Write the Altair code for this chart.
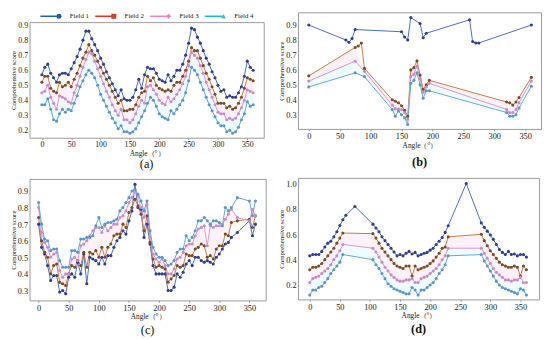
import altair as alt
import pandas as pd

FONT = "Liberation Serif"
FIELDS = ["Field 1", "Field 2", "Field 3", "Field 4"]
LINE_COLORS = ["#4a6fb8", "#c97a3f", "#d993d9", "#62a6dc"]
MARK_COLORS = ["#2c3c96", "#7a4b25", "#c98bc9", "#5a96cc"]
LEG_LINE = ["#1f5fa8", "#e8312f", "#f57fc1", "#17bcc4"]
LEG_MARK = ["#1f5fa8", "#d2402a", "#f57fc1", "#5ab4e0"]
LEG_SHAPES = ["circle", "square", "diamond", "triangle-up"]
XTICKS = [0, 50, 100, 150, 200, 250, 300, 350]

# ---------------- panel (a) ----------------
a_angle = list(range(0, 361, 5))
a_f1 = [0.57, 0.62, 0.64, 0.58, 0.55, 0.52, 0.57, 0.58, 0.58, 0.57,
        0.61, 0.65, 0.69, 0.74, 0.80, 0.86, 0.86, 0.81, 0.77, 0.73,
        0.68, 0.64, 0.59, 0.55, 0.51, 0.47, 0.43, 0.47, 0.41, 0.40,
        0.40, 0.42, 0.47, 0.54, 0.48, 0.57, 0.62, 0.61, 0.61, 0.58,
        0.54, 0.53, 0.52, 0.57, 0.53, 0.56, 0.60, 0.60, 0.64, 0.70,
        0.78, 0.88, 0.87, 0.82, 0.78, 0.73, 0.68, 0.64, 0.59, 0.55,
        0.50, 0.46, 0.47, 0.42, 0.43, 0.42, 0.42, 0.45, 0.49, 0.56,
        0.66, 0.62, 0.60]
a_f2 = [0.52, 0.56, 0.56, 0.48, 0.46, 0.45, 0.52, 0.49, 0.50, 0.52,
        0.49, 0.54, 0.58, 0.63, 0.68, 0.72, 0.77, 0.73, 0.70, 0.66,
        0.62, 0.58, 0.54, 0.50, 0.46, 0.42, 0.38, 0.40, 0.33, 0.33,
        0.34, 0.34, 0.37, 0.42, 0.45, 0.46, 0.56, 0.53, 0.55, 0.50,
        0.48, 0.47, 0.46, 0.47, 0.46, 0.50, 0.52, 0.52, 0.56, 0.60,
        0.66, 0.75, 0.73, 0.73, 0.68, 0.63, 0.58, 0.54, 0.49, 0.44,
        0.38, 0.38, 0.38, 0.35, 0.36, 0.34, 0.35, 0.38, 0.42, 0.48,
        0.55, 0.54, 0.53]
a_f3 = [0.45, 0.46, 0.50, 0.42, 0.38, 0.34, 0.43, 0.42, 0.41, 0.39,
        0.38, 0.45, 0.50, 0.56, 0.62, 0.67, 0.72, 0.71, 0.66, 0.61,
        0.56, 0.51, 0.46, 0.42, 0.37, 0.33, 0.30, 0.34, 0.27, 0.27,
        0.25, 0.27, 0.31, 0.36, 0.40, 0.38, 0.49, 0.50, 0.47, 0.44,
        0.40, 0.38, 0.37, 0.42, 0.39, 0.41, 0.44, 0.47, 0.51, 0.56,
        0.63, 0.72, 0.70, 0.68, 0.63, 0.58, 0.52, 0.47, 0.42, 0.37,
        0.32, 0.31, 0.31, 0.27, 0.28, 0.27, 0.28, 0.31, 0.35, 0.40,
        0.47, 0.46, 0.45]
a_f4 = [0.37, 0.37, 0.41, 0.34, 0.27, 0.26, 0.31, 0.34, 0.32, 0.34,
        0.33, 0.38, 0.43, 0.49, 0.53, 0.57, 0.60, 0.58, 0.55, 0.50,
        0.44, 0.40, 0.36, 0.32, 0.28, 0.25, 0.21, 0.23, 0.19, 0.19,
        0.18, 0.19, 0.21, 0.25, 0.29, 0.33, 0.38, 0.42, 0.40, 0.36,
        0.31, 0.29, 0.28, 0.27, 0.33, 0.31, 0.34, 0.37, 0.40, 0.45,
        0.53, 0.62, 0.60, 0.57, 0.52, 0.47, 0.42, 0.37, 0.33, 0.29,
        0.25, 0.23, 0.23, 0.19, 0.20, 0.18, 0.19, 0.22, 0.27, 0.31,
        0.39, 0.36, 0.37]

# ---------------- panel (b) ----------------
b_angle1 = [0, 60, 65, 70, 75, 150, 155, 160, 165, 180, 185, 190, 260, 265, 270, 275, 360]
b_f1 = [0.90, 0.80, 0.785, 0.81, 0.87, 0.855, 0.82, 0.80, 0.95, 0.91, 0.815, 0.845,
        0.935, 0.79, 0.78, 0.78, 0.90]
b_angle2 = [0, 75, 80, 85, 90, 135, 140, 145, 150, 155, 160, 165, 170, 175, 180, 185,
            190, 195, 320, 325, 330, 335, 340, 360]
b_f2 = [0.56, 0.75, 0.76, 0.78, 0.61, 0.40, 0.39, 0.38, 0.36, 0.33, 0.29, 0.60, 0.615,
        0.66, 0.565, 0.47, 0.50, 0.53, 0.385, 0.38, 0.365, 0.385, 0.415, 0.55]
b_angle34 = [0, 75, 90, 135, 140, 145, 150, 155, 160, 165, 170, 175, 180, 185, 190, 195,
             320, 325, 330, 335, 340, 360]
b_f3 = [0.525, 0.658, 0.59, 0.365, 0.34, 0.34, 0.335, 0.315, 0.27, 0.555, 0.57, 0.625,
        0.54, 0.45, 0.485, 0.51, 0.335, 0.315, 0.315, 0.335, 0.38, 0.525]
b_f4 = [0.486, 0.58, 0.555, 0.335, 0.29, 0.325, 0.30, 0.28, 0.235, 0.51, 0.53, 0.58,
        0.50, 0.41, 0.46, 0.46, 0.315, 0.29, 0.29, 0.30, 0.345, 0.49]
b_f2_at34 = [0.56, 0.75, 0.61, 0.40, 0.39, 0.38, 0.36, 0.33, 0.29, 0.60, 0.615, 0.66,
             0.565, 0.47, 0.50, 0.53, 0.385, 0.38, 0.365, 0.385, 0.415, 0.55]

# ---------------- panel (c) ----------------
c_angle = list(range(0, 321, 5)) + [330, 350, 355, 360]
c_f1 = [0.70, 0.56, 0.52, 0.45, 0.36, 0.39, 0.39, 0.29, 0.30, 0.28,
        0.38, 0.40, 0.38, 0.47, 0.40, 0.52, 0.34, 0.50, 0.49, 0.48,
        0.46, 0.50, 0.46, 0.51, 0.51, 0.56, 0.60, 0.62, 0.66, 0.64,
        0.72, 0.78, 0.94, 0.80, 0.79, 0.62, 0.70, 0.58, 0.45, 0.40,
        0.40, 0.40, 0.40, 0.30, 0.30, 0.32, 0.40, 0.38, 0.41, 0.46,
        0.48, 0.45, 0.50, 0.50, 0.48, 0.47, 0.48, 0.47, 0.46, 0.50,
        0.52, 0.55, 0.58, 0.59, 0.62,
        0.65, 0.72, 0.63, 0.70]
c_f2 = [0.74, 0.60, 0.53, 0.50, 0.40, 0.45, 0.46, 0.35, 0.34, 0.33,
        0.40, 0.45, 0.44, 0.48, 0.45, 0.53, 0.44, 0.53, 0.52, 0.54,
        0.50, 0.56, 0.50, 0.56, 0.58, 0.63, 0.64, 0.64, 0.70, 0.68,
        0.77, 0.80, 0.85, 0.81, 0.76, 0.66, 0.75, 0.59, 0.49, 0.44,
        0.45, 0.44, 0.43, 0.35, 0.37, 0.39, 0.45, 0.44, 0.45, 0.52,
        0.51, 0.51, 0.55, 0.56, 0.58, 0.57, 0.50, 0.51, 0.49, 0.55,
        0.57, 0.57, 0.64, 0.63, 0.71,
        0.72, 0.73, 0.68, 0.75]
c_f3 = [0.80, 0.65, 0.59, 0.56, 0.50, 0.52, 0.53, 0.42, 0.38, 0.40,
        0.40, 0.49, 0.50, 0.48, 0.57, 0.58, 0.60, 0.63, 0.66, 0.68,
        0.68, 0.65, 0.69, 0.66, 0.68, 0.70, 0.70, 0.74, 0.75, 0.78,
        0.83, 0.86, 0.90, 0.87, 0.80, 0.74, 0.82, 0.62, 0.52, 0.49,
        0.47, 0.49, 0.45, 0.40, 0.40, 0.43, 0.49, 0.50, 0.53, 0.57,
        0.58, 0.58, 0.63, 0.67, 0.68, 0.69, 0.57, 0.69, 0.68, 0.69,
        0.69, 0.70, 0.73, 0.76, 0.79,
        0.74, 0.72, 0.79, 0.75]
c_f4 = [0.83, 0.70, 0.61, 0.60, 0.54, 0.55, 0.55, 0.48, 0.44, 0.44,
        0.44, 0.54, 0.54, 0.53, 0.61, 0.61, 0.62, 0.62, 0.63, 0.69,
        0.74, 0.68, 0.70, 0.71, 0.71, 0.72, 0.73, 0.78, 0.80, 0.83,
        0.86, 0.90, 0.91, 0.88, 0.84, 0.78, 0.84, 0.66, 0.56, 0.52,
        0.50, 0.50, 0.48, 0.45, 0.46, 0.48, 0.53, 0.55, 0.55, 0.63,
        0.60, 0.62, 0.66, 0.72, 0.72, 0.74, 0.72, 0.70, 0.72, 0.72,
        0.71, 0.69, 0.80, 0.78, 0.80,
        0.86, 0.84, 0.75, 0.84]

# ---------------- panel (d) ----------------
d_angle1 = (list(range(0, 61, 5)) + [75] + list(range(105, 231, 5)) + [260]
            + list(range(285, 361, 5)))
d_f1 = [0.43, 0.44, 0.44, 0.44, 0.465, 0.50, 0.53, 0.545, 0.58, 0.62, 0.67, 0.715, 0.75,
        0.82,
        0.68, 0.65, 0.62, 0.58, 0.55, 0.52, 0.49, 0.46, 0.43, 0.44, 0.43, 0.45, 0.465,
        0.445, 0.457, 0.43, 0.44, 0.45, 0.457, 0.475, 0.49, 0.52, 0.545, 0.575, 0.615, 0.667,
        1.0,
        0.69, 0.655, 0.625, 0.595, 0.56, 0.52, 0.48, 0.457, 0.44, 0.465, 0.44, 0.445,
        0.43, 0.44, 0.44, 0.42]
d_angle = list(range(0, 56, 5)) + list(range(105, 231, 5)) + list(range(285, 361, 5))
d_f2 = [0.32, 0.34, 0.34, 0.35, 0.37, 0.40, 0.43, 0.46, 0.49, 0.53, 0.57, 0.61,
        0.605, 0.57, 0.53, 0.49, 0.46, 0.43, 0.40, 0.37, 0.35, 0.34, 0.33, 0.35, 0.35,
        0.27, 0.35, 0.32, 0.33, 0.34, 0.35, 0.37, 0.39, 0.42, 0.45, 0.49, 0.50, 0.58,
        0.60, 0.55, 0.51, 0.47, 0.44, 0.41, 0.38, 0.36, 0.35, 0.34, 0.34, 0.35, 0.34,
        0.27, 0.35, 0.32]
d_f3 = [0.22, 0.25, 0.26, 0.27, 0.29, 0.31, 0.33, 0.36, 0.40, 0.43, 0.47, 0.52,
        0.49, 0.46, 0.42, 0.38, 0.34, 0.31, 0.28, 0.26, 0.24, 0.23, 0.23, 0.24, 0.24,
        0.25, 0.22, 0.22, 0.25, 0.26, 0.27, 0.29, 0.31, 0.33, 0.36, 0.40, 0.43, 0.49,
        0.49, 0.45, 0.41, 0.37, 0.33, 0.30, 0.28, 0.26, 0.24, 0.24, 0.23, 0.24, 0.24,
        0.26, 0.22, 0.22]
d_f4 = [0.12, 0.16, 0.16, 0.18, 0.19, 0.22, 0.25, 0.29, 0.32, 0.35, 0.38, 0.44,
        0.40, 0.36, 0.33, 0.29, 0.25, 0.21, 0.19, 0.17, 0.16, 0.15, 0.14, 0.13, 0.13,
        0.18, 0.16, 0.12, 0.16, 0.16, 0.18, 0.20, 0.22, 0.25, 0.29, 0.32, 0.36, 0.43,
        0.44, 0.39, 0.35, 0.31, 0.27, 0.23, 0.20, 0.18, 0.17, 0.16, 0.15, 0.14, 0.13,
        0.17, 0.16, 0.12]


def long_frame(parts):
    rows = []
    for field, angs, vals in parts:
        for a, v in zip(angs, vals):
            rows.append({"angle": a, "score": v, "field": field})
    return pd.DataFrame(rows)


def band_frame(angs, hi, lo):
    return pd.DataFrame({"angle": angs, "score": hi, "lo": lo})


def panel(df, pink, cyan, xdom, ydom, yvals, w, h, label, bold, lab_fs, toff):
    xenc = alt.X("angle:Q",
                 scale=alt.Scale(domain=xdom, nice=False, zero=False),
                 axis=alt.Axis(values=XTICKS, title="Angle（°）", grid=False, domain=False,
                               tickSize=2, tickColor="#999999", labelFontSize=lab_fs,
                               titleFontSize=7.5, labelPadding=1, titlePadding=1,
                               titleFontWeight="normal", labelColor="#222222",
                               titleColor="#222222", labelFont=FONT, titleFont=FONT))
    yenc = alt.Y("score:Q",
                 scale=alt.Scale(domain=ydom, nice=False, zero=False),
                 axis=alt.Axis(values=yvals, format=".1f", title="Comprehensive score",
                               grid=False, domain=False, tickSize=0, labelFontSize=lab_fs,
                               titleFontSize=7, labelPadding=2, titlePadding=1,
                               titleFontWeight="normal", labelColor="#222222",
                               titleColor="#222222", labelFont=FONT, titleFont=FONT))
    layers = []
    if cyan is not None:
        layers.append(alt.Chart(cyan).mark_area(color="#c8f4f8", opacity=0.3)
                      .encode(x=xenc, y=yenc, y2="lo:Q"))
    if pink is not None:
        layers.append(alt.Chart(pink).mark_area(color="#ffcfe8", opacity=0.3)
                      .encode(x=xenc, y=yenc, y2="lo:Q"))
    lines = alt.Chart(df).mark_line(strokeWidth=1).encode(
        x=xenc, y=yenc,
        stroke=alt.Stroke("field:N", scale=alt.Scale(domain=FIELDS, range=LINE_COLORS),
                          legend=None),
        detail="field:N")
    pts = alt.Chart(df).mark_circle(size=10, opacity=1).encode(
        x=xenc, y=yenc,
        fill=alt.Fill("field:N", scale=alt.Scale(domain=FIELDS, range=MARK_COLORS),
                      legend=None))
    layers += [lines, pts]
    return alt.layer(*layers).properties(
        width=w, height=h,
        view=alt.ViewBackground(stroke="#9a9a9a", strokeWidth=1),
        title=alt.TitleParams(label, orient="bottom", fontSize=12.5, font=FONT,
                              fontWeight="bold" if bold else "normal", offset=toff,
                              color="#111111"))


df_a = long_frame([("Field 1", a_angle, a_f1), ("Field 2", a_angle, a_f2),
                   ("Field 3", a_angle, a_f3), ("Field 4", a_angle, a_f4)])
df_b = long_frame([("Field 1", b_angle1, b_f1), ("Field 2", b_angle2, b_f2),
                   ("Field 3", b_angle34, b_f3), ("Field 4", b_angle34, b_f4)])
df_c = long_frame([("Field 1", c_angle, c_f1), ("Field 2", c_angle, c_f2),
                   ("Field 3", c_angle, c_f3), ("Field 4", c_angle, c_f4)])
df_d = long_frame([("Field 1", d_angle1, d_f1), ("Field 2", d_angle, d_f2),
                   ("Field 3", d_angle, d_f3), ("Field 4", d_angle, d_f4)])

pa = panel(df_a, band_frame(a_angle, a_f2, a_f3), band_frame(a_angle, a_f3, a_f4),
           [-21, 378], [0.15, 0.92], [0.2, 0.3, 0.4, 0.5, 0.6, 0.7, 0.8, 0.9],
           239, 118, "(a)", False, 8, 1)
pb = panel(df_b, band_frame(b_angle34, b_f2_at34, b_f3), band_frame(b_angle34, b_f3, b_f4),
           [-17.4, 375.6], [0.205, 0.985], [0.3, 0.4, 0.5, 0.6, 0.7, 0.8, 0.9],
           248, 119, "(b)", True, 8.5, 8)
pc = panel(df_c, band_frame(c_angle, c_f3, c_f2), None,
           [-15, 377], [0.24, 0.973], [0.3, 0.4, 0.5, 0.6, 0.7, 0.8, 0.9],
           241, 124, "(c)", False, 8.5, 4)
pdd = panel(df_d, band_frame(d_angle, d_f2, d_f3), band_frame(d_angle, d_f3, d_f4),
            [-19.5, 381], [0.086, 1.045], [0.2, 0.4, 0.6, 0.8, 1.0],
            246, 124, "(d)", True, 8.5, 4)

# ---------------- legend ----------------
leg_df = pd.DataFrame({"field": FIELDS, "lcolor": LEG_LINE, "mcolor": LEG_MARK})
lx = alt.X("field:N", scale=alt.Scale(type="point", domain=FIELDS, padding=0.6), axis=None)
leg_rule = alt.Chart(leg_df).mark_rule(strokeWidth=1.5, xOffset=-22.5, x2Offset=-4.5).encode(
    x=lx, x2=alt.X2("field:N"), y=alt.value(4),
    color=alt.Color("lcolor:N", scale=None, legend=None))
leg_pt = alt.Chart(leg_df).mark_point(filled=True, size=26, opacity=1, xOffset=-3.5).encode(
    x=lx, y=alt.value(4),
    shape=alt.Shape("field:N", scale=alt.Scale(domain=FIELDS, range=LEG_SHAPES), legend=None),
    fill=alt.Fill("mcolor:N", scale=None, legend=None))
leg_txt = alt.Chart(leg_df).mark_text(align="left", baseline="middle", dx=7.5, fontSize=7,
                                      font=FONT, color="#222222").encode(
    x=lx, y=alt.value(4), text="field:N")
legend = alt.layer(leg_rule, leg_pt, leg_txt).properties(
    width=235, height=8, view=alt.ViewBackground(strokeOpacity=0))

left = alt.vconcat(legend, alt.vconcat(pa, pc, spacing=42, bounds="flush"), spacing=0)
right = alt.vconcat(pb, pdd, spacing=50, bounds="flush")
chart = alt.hconcat(left, right, spacing=10).configure_view(
    stroke="transparent").properties(padding=0, background="white")

chart.save("out.html", embed_options={"renderer": "svg", "actions": False})
